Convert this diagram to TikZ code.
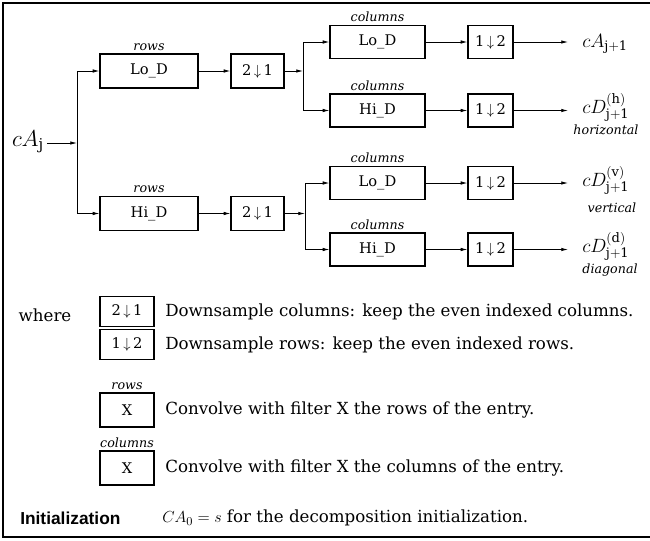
\documentclass[tikz,border=0pt]{standalone}
\usepackage{fontspec}
\setmainfont{DejaVu Serif}
\newfontfamily\initfont{Liberation Sans}
\usetikzlibrary{arrows.meta,positioning}

\newcommand{\descol}{2\,$\downarrow$\,1}
\newcommand{\deslin}{1\,$\downarrow$\,2}

\tikzset{
  caixa/.style={draw, line width=0.9pt, inner sep=0pt, font=\fontsize{11}{13}\selectfont},
  rowbox/.style={caixa, minimum width=73.5pt, minimum height=25.5pt},
  dsbox/.style={caixa, minimum width=39.75pt, minimum height=25.5pt},
  colbox/.style={caixa, minimum width=71.25pt, minimum height=24.75pt},
  usbox/.style={caixa, minimum width=33.75pt, minimum height=24.75pt},
  legbox/.style={caixa, minimum width=40.5pt, minimum height=23pt},
  rotulo/.style={font=\fontsize{9.5}{10}\selectfont\itshape, inner sep=1pt},
  saida/.style={anchor=base west, inner sep=0pt, font=\fontsize{14}{16}\selectfont},
  seta/.style={-{Latex[length=5pt,width=2.6pt]}, line width=0.6pt},
  linha/.style={line width=0.6pt},
  texto/.style={anchor=west, inner sep=0pt, font=\fontsize{12.5}{14}\selectfont},
}

\begin{document}
\begin{tikzpicture}[x=0.75pt,y=-0.75pt]
        \useasboundingbox (0,0) rectangle (650,540);
        % moldura
        \draw[line width=2pt] (650,3) -- (3,3) -- (3,537) -- (650,537);
        
        % entrada e filtros nas linhas
        \node[font=\fontsize{16}{18}\selectfont, inner sep=2pt] (cAj) at (28,142) {$cA_{\mathrm{j}}$};
        \coordinate (r0) at (77,143);
        \coordinate (r0a) at (77,71);
        \coordinate (r0b) at (77,213.5);
        
        \node[rowbox] (loR) at (149,71) {Lo\_D};
        \node[dsbox] (dsA) at (257.5,71) {\descol};
        \node[rowbox] (hiR) at (149,213.5) {Hi\_D};
        \node[dsbox] (dsB) at (257.5,213.5) {\descol};
        \node[rotulo, above=1pt of loR] {rows};
        \node[rotulo, above=1pt of hiR] {rows};
        
        \draw[linha] (r0a) -- (r0b);
        \draw[seta] (cAj.east |- r0) -- (r0);
        \draw[seta] (r0a) -- (loR);
        \draw[seta] (r0b) -- (hiR);
        \draw[seta] (loR) -- (dsA);
        \draw[seta] (hiR) -- (dsB);
        
        % filtros nas colunas
        \node[colbox] (loC1) at (377.5,42) {Lo\_D};
        \node[usbox] (usA) at (490.5,42) {\deslin};
        \node[colbox] (hiC1) at (377.5,110.5) {Hi\_D};
        \node[usbox] (usB) at (490.5,110.5) {\deslin};
        \node[colbox] (loC2) at (377.5,183) {Lo\_D};
        \node[usbox] (usC) at (490.5,183) {\deslin};
        \node[colbox] (hiC2) at (377.5,249.5) {Hi\_D};
        \node[usbox] (usD) at (490.5,249.5) {\deslin};
        \node[rotulo, above=1pt of loC1] {columns};
        \node[rotulo, above=1pt of hiC1] {columns};
        \node[rotulo, above=1pt of loC2] {columns};
        \node[rotulo, above=1pt of hiC2] {columns};
        
        \coordinate (r1) at (303,71);
        \coordinate (r1a) at (303,42);
        \coordinate (r1b) at (303,110.5);
        \coordinate (r2) at (305,213.5);
        \coordinate (r2a) at (305,183);
        \coordinate (r2b) at (305,249.5);
        
        \draw[seta] (dsA) -- (r1);
        \draw[seta] (dsB) -- (r2);
        \draw[linha] (r1a) -- (r1b);
        \draw[linha] (r2a) -- (r2b);
        \draw[seta] (r1a) -- (loC1);
        \draw[seta] (r1b) -- (hiC1);
        \draw[seta] (r2a) -- (loC2);
        \draw[seta] (r2b) -- (hiC2);
        \draw[seta] (loC1) -- (usA);
        \draw[seta] (hiC1) -- (usB);
        \draw[seta] (loC2) -- (usC);
        \draw[seta] (hiC2) -- (usD);
        
        % saidas
        \coordinate (sA) at (568,42);
        \coordinate (sB) at (568,110.5);
        \coordinate (sC) at (568,183);
        \coordinate (sD) at (568,249.5);
        \draw[seta] (usA) -- (sA);
        \draw[seta] (usB) -- (sB);
        \draw[seta] (usC) -- (sC);
        \draw[seta] (usD) -- (sD);
        
        \node[saida] (cA1) at (582,47) {$cA_{\mathrm{j+1}}$};
        \node[saida] (cDh) at (582,113) {$cD_{\mathrm{j+1}}^{\mathrm{(h)}}$};
        \node[saida] (cDv) at (582,186) {$cD_{\mathrm{j+1}}^{\mathrm{(v)}}$};
        \node[saida] (cDd) at (582,252) {$cD_{\mathrm{j+1}}^{\mathrm{(d)}}$};
        \node[rotulo] at (606,130) {horizontal};
        \node[rotulo] at (612,208) {vertical};
        \node[rotulo] at (610,270) {diagonal};
        
        % legenda
        \node[font=\fontsize{12.5}{14}\selectfont] (onde) at (45,315) {where};
        \node[legbox] (lgA) at (127,311.5) {\descol};
        \node[legbox] (lgB) at (127,344.5) {\deslin};
        \node[texto] (txA) at (165,312) {Downsample columns: keep the even indexed columns.};
        \node[texto] (txB) at (165,344.5) {Downsample rows: keep the even indexed rows.};
        \node[legbox, minimum height=25.5pt] (lgC) at (127,410) {X};
        \node[rotulo, above=1pt of lgC] {rows};
        \node[texto] (txC) at (165,410) {Convolve with filter X the rows of the entry.};
        \node[legbox, minimum height=25.5pt] (lgD) at (127,468) {X};
        \node[rotulo, above=1pt of lgD] {columns};
        \node[texto] (txD) at (165,468) {Convolve with filter X the columns of the entry.};
        \node[anchor=west, inner sep=0pt, font=\initfont\bfseries\fontsize{13}{15}\selectfont] (ini) at (20,518) {Initialization};
        \node[texto] (txE) at (162,518) {$CA_0 = s$ for the decomposition initialization.};
        
    \end{tikzpicture}
\end{document}
